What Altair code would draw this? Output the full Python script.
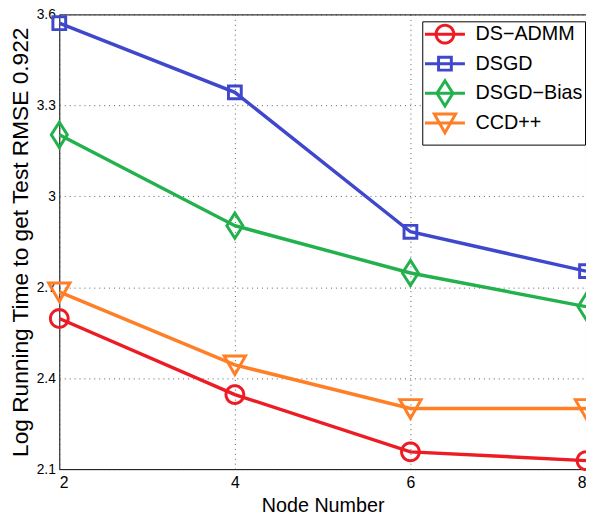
import math
import altair as alt
import pandas as pd

# ---- data ----
nodes = [2, 4, 6, 8]
series_names = ["DS−ADMM", "DSGD", "DSGD−Bias", "CCD++"]
ds_admm = [2.597, 2.346, 2.157, 2.128]
dsgd = [3.571, 3.343, 2.883, 2.753]
dsgd_bias = [3.203, 2.903, 2.747, 2.636]
ccdpp = [2.685, 2.444, 2.300, 2.300]
colors = ["#ed1c24", "#3f48cc", "#22b14c", "#ff7f27"]
x_ticks = [2, 4, 6, 8]
y_ticks = [2.1, 2.4, 2.7, 3.0, 3.3, 3.6]

rows = []
for name, vals in zip(series_names, [ds_admm, dsgd, dsgd_bias, ccdpp]):
    for n, v in zip(nodes, vals):
        rows.append({"nodes": n, "time": v, "series": name})
df = pd.DataFrame(rows)

# marker shapes (unit = sqrt(size)/2 px); leading moveTos give equal bounds
ext = "M0,-1.42M0,1.42"
circ_pts = ["%.3f,%.3f" % (math.cos(2 * math.pi * k / 40), math.sin(2 * math.pi * k / 40)) for k in range(40)]
circ = ext + "M" + "L".join(circ_pts) + "Z"
sq = ext + "M-0.72,-0.72H0.72V0.72H-0.72Z"
dia = ext + "M0,-1.42L0.9,0L0,1.42L-0.9,0Z"
tri = ext + "M-1.2,-1L1.2,-1L0,1.1Z"
shapes = [circ, sq, dia, tri]
leg_line = ext + "M-2.25,0H2.25"

xs = alt.Scale(domain=[2, 8], nice=False, zero=False)
ys = alt.Scale(domain=[2.1, 3.6], nice=False, zero=False)
xax = alt.Axis(values=x_ticks, title="Node Number", format="d", labelFontSize=16, labelPadding=6,
               titleFontSize=20, titlePadding=5)
yax = alt.Axis(values=y_ticks, title="Log Running Time to get Test RMSE 0.922", format=".1~f",
               labelFontSize=14, labelPadding=4, titleFontSize=23, titlePadding=4)

common = dict(
    title=None, orient="none", legendX=368, legendY=7, padding=2.5,
    symbolSize=324, symbolStrokeWidth=3, symbolOffset=10, labelOffset=20.5,
    labelFont="Liberation Sans", labelFontSize=20, labelColor="black",
    labelExpr="datum.label + ' '",
    rowPadding=-12, gridAlign="all",
)
leg_lines = alt.Legend(symbolType=leg_line, labelOpacity=0, zindex=2, **common)
leg_marks = alt.Legend(strokeColor="black", fillColor="white", zindex=1, **common)

lines = alt.Chart(df).mark_line(strokeWidth=3.5).encode(
    x=alt.X("nodes:Q", scale=xs, axis=xax),
    y=alt.Y("time:Q", scale=ys, axis=yax),
    stroke=alt.Stroke("series:N", sort=series_names, scale=alt.Scale(range=colors), legend=leg_lines),
    detail="series:N",
)

points = alt.Chart(df).mark_point(filled=False, size=324, strokeWidth=3, opacity=1).encode(
    x=alt.X("nodes:Q", scale=xs),
    y=alt.Y("time:Q", scale=ys),
    color=alt.Color("series:N", scale=alt.Scale(domain=series_names, range=colors), legend=leg_marks),
    shape=alt.Shape("series:N", scale=alt.Scale(domain=series_names, range=shapes), legend=leg_marks),
)

chart = alt.layer(lines, points).properties(
    width=534, height=461,
    autosize=alt.AutoSizeParams(type="none"),
    padding={"left": 52, "top": 3, "right": 0, "bottom": 44},
).configure_view(stroke="black", strokeWidth=1).configure_axis(
    grid=True, gridDash=[1, 4], gridColor="#333", gridWidth=0.8,
    domain=False, ticks=False,
    labelFont="Liberation Sans", labelColor="black",
    titleFont="Liberation Sans", titleColor="black", titleFontWeight="normal",
)

chart.save("out.html", embed_options={"renderer": "svg", "actions": False})
